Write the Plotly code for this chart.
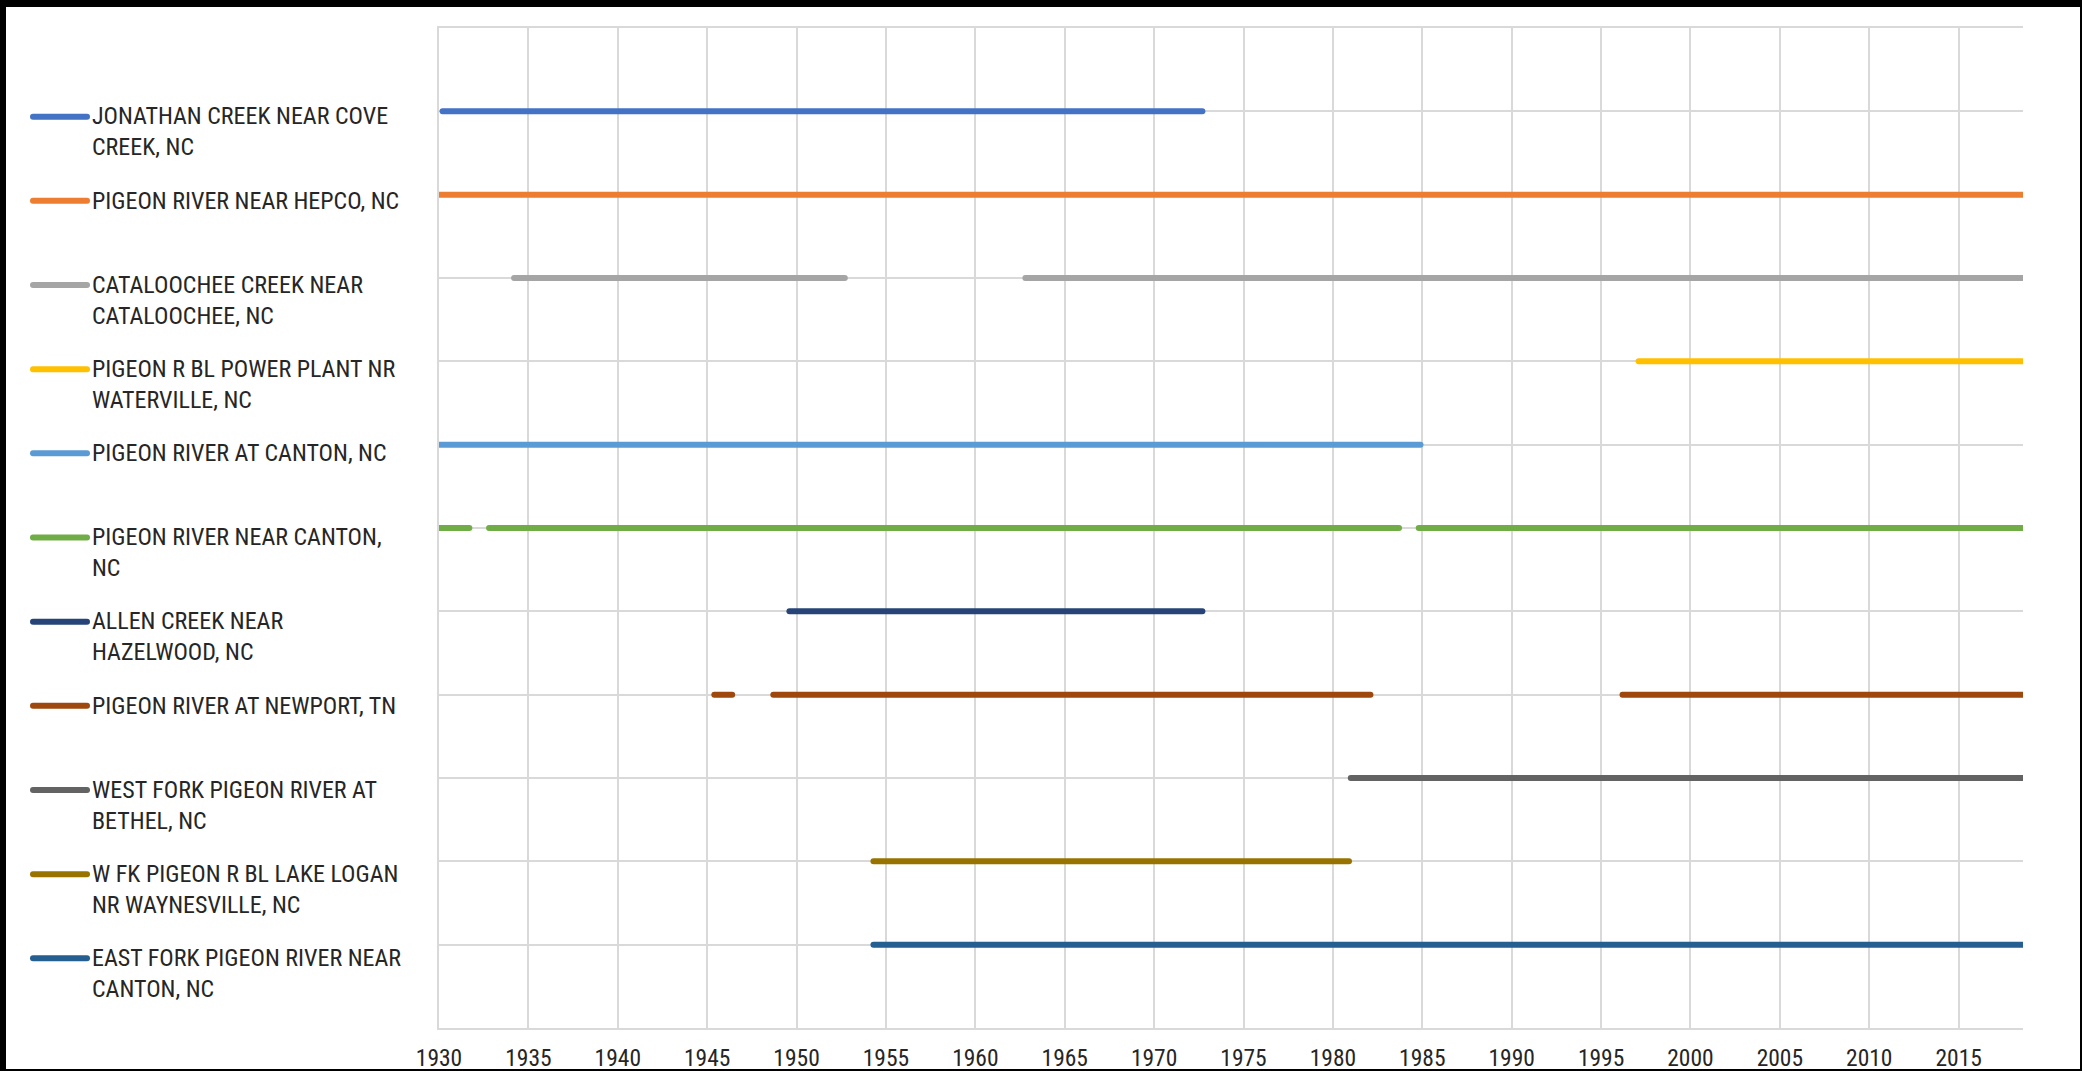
import plotly.graph_objects as go

# Streamgage stations, top to bottom
stations = [
    "JONATHAN CREEK NEAR COVE<br>CREEK, NC",
    "PIGEON RIVER NEAR HEPCO, NC",
    "CATALOOCHEE CREEK NEAR<br>CATALOOCHEE, NC",
    "PIGEON R BL POWER PLANT NR<br>WATERVILLE, NC",
    "PIGEON RIVER AT CANTON, NC",
    "PIGEON RIVER NEAR CANTON,<br>NC",
    "ALLEN CREEK NEAR<br>HAZELWOOD, NC",
    "PIGEON RIVER AT NEWPORT, TN",
    "WEST FORK PIGEON RIVER AT<br>BETHEL, NC",
    "W FK PIGEON R BL LAKE LOGAN<br>NR WAYNESVILLE, NC",
    "EAST FORK PIGEON RIVER NEAR<br>CANTON, NC",
]

# Row position of each station on the chart
rows = [11, 10, 9, 8, 7, 6, 5, 4, 3, 2, 1]

# Periods of record (start year, end year) for each station
periods = [
    [(1930.2, 1972.7)],
    [(1930.0, 2018.6)],
    [(1934.2, 1952.7), (1962.8, 2018.6)],
    [(1997.1, 2018.6)],
    [(1930.0, 1984.9)],
    [(1930.0, 1931.7), (1932.8, 1983.7), (1984.8, 2018.6)],
    [(1949.6, 1972.7)],
    [(1945.4, 1946.4), (1948.7, 1982.1), (1996.2, 2018.6)],
    [(1981.0, 2018.6)],
    [(1954.3, 1980.9)],
    [(1954.3, 2018.6)],
]

colors = [
    "#4472C4", "#ED7D31", "#A5A5A5", "#FFC000", "#5B9BD5", "#70AD47",
    "#264478", "#9E480E", "#636363", "#997300", "#255E91",
]

year_ticks = list(range(1930, 2016, 5))
x_range = [1930, 2018.6]

# Figure geometry (pixels)
W, H = 2082, 1071
ML, MR, MT, MB = 439, 59, 28, 43
PW, PH = W - ML - MR, H - MT - MB


def px_x(px):
    return (px - ML) / PW


def px_y(py):
    return (H - MB - py) / PH


FONT = "Liberation Sans Narrow, Arial Narrow, Roboto Condensed, Liberation Sans, sans-serif"
TEXT_COLOR = "#262626"

fig = go.Figure()

for name, row, segs, col in zip(stations, rows, periods, colors):
    xs, ys = [], []
    for s, e in segs:
        xs += [s, e, None]
        ys += [row, row, None]
    fig.add_trace(go.Scatter(
        x=xs, y=ys, mode="lines", name=name.replace("<br>", " "),
        line=dict(color=col, width=6), showlegend=False, hoverinfo="skip",
    ))

shapes = [
    # white chart area inside the black frame
    dict(type="rect", xref="paper", yref="paper", layer="below",
         x0=px_x(6), x1=px_x(2080), y0=px_y(1069), y1=px_y(7),
         fillcolor="white", line=dict(width=0)),
]
annotations = []

# Legend column on the left
LEG_TOP, LEG_STEP, LINE_H = 116.7, 84.16, 30.5
for i, (name, col) in enumerate(zip(stations, colors)):
    py = LEG_TOP + i * LEG_STEP
    shapes.append(dict(type="line", xref="paper", yref="paper", layer="above",
                       x0=px_x(33), x1=px_x(87), y0=px_y(py), y1=px_y(py),
                       line=dict(color=col, width=6)))
    nlines = name.count("<br>") + 1
    annotations.append(dict(
        text=name, xref="paper", yref="paper", x=px_x(90),
        y=px_y(py + (nlines - 1) * LINE_H / 2), xanchor="left", yanchor="middle",
        align="left", showarrow=False, font=dict(family=FONT, size=24, color=TEXT_COLOR),
    ))

GRID = "#D9D9D9"
fig.update_layout(
    width=W, height=H,
    margin=dict(l=ML, r=MR, t=MT, b=MB, pad=0, autoexpand=False),
    paper_bgcolor="black", plot_bgcolor="white",
    shapes=shapes, annotations=annotations,
    xaxis=dict(range=x_range, tickvals=year_ticks, ticktext=[str(v) for v in year_ticks],
               automargin=False,
               showgrid=True, gridcolor=GRID, gridwidth=2,
               showline=True, linecolor=GRID, linewidth=2, mirror=True,
               zeroline=False, ticks="", ticklabelstandoff=8,
               tickfont=dict(family=FONT, size=23.5, color=TEXT_COLOR)),
    yaxis=dict(range=[0, 12], dtick=1, showticklabels=False, automargin=False,
               showgrid=True, gridcolor=GRID, gridwidth=2,
               showline=True, linecolor=GRID, linewidth=2, mirror=False,
               zeroline=False, ticks=""),
    showlegend=False,
)

round_caps = """
document.querySelectorAll('.scatterlayer .js-line, .shapelayer path').forEach(function(p){
  p.style.strokeLinecap = 'round';
});
"""
fig.write_html("out.html", post_script=round_caps)
